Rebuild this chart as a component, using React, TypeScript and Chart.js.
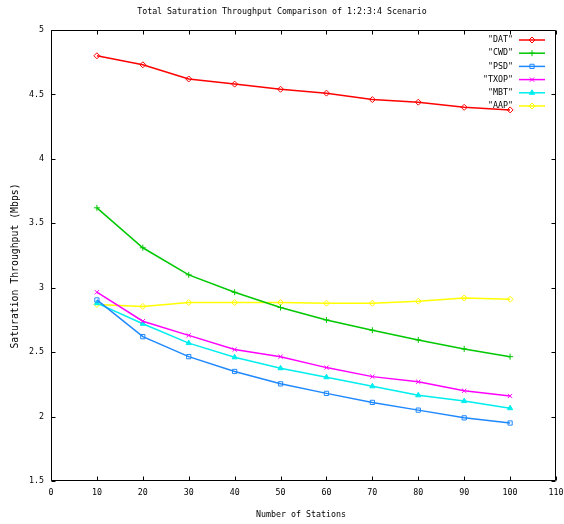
import React, { useEffect, useRef } from "react";
import { Chart, registerables } from "chart.js";
import { drawPoint } from "chart.js/helpers";
Chart.register(...registerables);

const stations = [10, 20, 30, 40, 50, 60, 70, 80, 90, 100];
const dat = [4.8, 4.73, 4.62, 4.58, 4.54, 4.51, 4.46, 4.44, 4.4, 4.38];
const cwd = [3.62, 3.31, 3.1, 2.965, 2.846, 2.75, 2.67, 2.595, 2.525, 2.465];
const psd = [2.905, 2.62, 2.465, 2.35, 2.254, 2.18, 2.11, 2.05, 1.99, 1.95];
const txop = [2.965, 2.74, 2.63, 2.52, 2.465, 2.38, 2.31, 2.27, 2.2, 2.16];
const mbt = [2.88, 2.72, 2.57, 2.46, 2.375, 2.305, 2.235, 2.165, 2.12, 2.065];
const aap = [2.87, 2.855, 2.885, 2.885, 2.885, 2.88, 2.88, 2.895, 2.92, 2.91];

const seriesNames = ['"DAT"', '"CWD"', '"PSD"', '"TXOP"', '"MBT"', '"AAP"'];
const seriesColors = ["#ff0000", "#00c800", "#1e88ff", "#ff00ff", "#00eeee", "#ffff00"];
const seriesPoints = ["rectRot", "cross", "rect", "crossRot", "triangle", "rectRot"];
const seriesValues = [dat, cwd, psd, txop, mbt, aap];

const titleText = "Total Saturation Throughput Comparison of 1:2:3:4 Scenario";
const xTitle = "Number of Stations";
const yTitle = "Saturation Throughput (Mbps)";
const FONT = "8.3px 'DejaVu Sans Mono', monospace";
const YFONT = "9.8px 'DejaVu Sans Mono', monospace";

const framePlugin = {
  id: "frame",
  afterDraw(chart: any) {
    const { ctx, chartArea: a, scales } = chart;
    ctx.save();
    ctx.strokeStyle = "#000";
    ctx.lineWidth = 1;
    const L = Math.round(a.left) + 0.5, R = Math.round(a.right) - 0.5;
    const T = Math.round(a.top) + 0.5, B = Math.round(a.bottom) - 0.5;
    ctx.beginPath();
    ctx.rect(L, T, R - L, B - T);
    ctx.stroke();
    const tl = 4;
    ctx.beginPath();
    scales.x.ticks.forEach((t: any) => {
      const px = Math.round(scales.x.getPixelForValue(t.value)) + 0.5;
      ctx.moveTo(px, B); ctx.lineTo(px, B - tl);
      ctx.moveTo(px, T); ctx.lineTo(px, T + tl);
    });
    scales.y.ticks.forEach((t: any) => {
      const py = Math.round(scales.y.getPixelForValue(t.value)) + 0.5;
      ctx.moveTo(L, py); ctx.lineTo(L + tl, py);
      ctx.moveTo(R, py); ctx.lineTo(R - tl, py);
    });
    ctx.stroke();

    // titles
    ctx.fillStyle = "#000";
    ctx.font = FONT;
    ctx.textAlign = "center";
    ctx.textBaseline = "middle";
    ctx.fillText(titleText, chart.width / 2, 12);
    ctx.fillText(xTitle, 301, 515);
    ctx.save();
    ctx.font = YFONT;
    ctx.translate(15, 266);
    ctx.rotate(-Math.PI / 2);
    ctx.fillText(yTitle, 0, 0);
    ctx.restore();

    // legend
    ctx.textAlign = "right";
    chart.data.datasets.forEach((ds: any, i: number) => {
      const y = 40 + i * 13.2;
      ctx.fillStyle = "#000";
      ctx.fillText(seriesNames[i], 513, y);
      ctx.strokeStyle = ds.borderColor;
      ctx.lineWidth = 1.5;
      ctx.beginPath();
      ctx.moveTo(519, y);
      ctx.lineTo(545, y);
      ctx.stroke();
      ctx.fillStyle = ds.pointBackgroundColor;
      ctx.lineWidth = 1;
      drawPoint(ctx, { pointStyle: ds.pointStyle, radius: ds.pointRadius, borderWidth: 1, rotation: 0 }, 532, y);
    });
    ctx.restore();
  },
};

export default function App() {
  const ref = useRef<HTMLCanvasElement>(null);
  useEffect(() => {
    document.body.style.margin = "0";
    const chart = new Chart(ref.current!, {
      type: "line",
      data: {
        labels: stations,
        datasets: seriesValues.map((vals, i) => ({
          label: seriesNames[i],
          data: stations.map((s, j) => ({ x: s, y: vals[j] })),
          borderColor: seriesColors[i],
          backgroundColor: seriesColors[i],
          pointBackgroundColor: seriesPoints[i] === "triangle" ? seriesColors[i] : "rgba(0,0,0,0)",
          pointBorderColor: seriesColors[i],
          pointStyle: seriesPoints[i] as any,
          pointRadius: 3,
          pointBorderWidth: 1,
          borderWidth: 1.5,
          tension: 0,
          fill: false,
        })),
      },
      options: {
        animation: false,
        responsive: false,
        layout: { padding: { top: 30, right: 8, left: 0, bottom: 0 } },
        plugins: { legend: { display: false }, title: { display: false }, tooltip: { enabled: false } },
        scales: {
          x: {
            type: "linear",
            min: 0,
            max: 110,
            grid: { display: false, drawTicks: false },
            border: { display: false },
            ticks: { stepSize: 10, autoSkip: false, maxRotation: 0, padding: 7, color: "#000", font: { family: "'DejaVu Sans Mono', monospace", size: 8.3 } },
            afterFit: (s: any) => { s.height = 43; s.paddingLeft = 0; s.paddingRight = 0; },
          },
          y: {
            min: 1.5,
            max: 5,
            grid: { display: false, drawTicks: false },
            border: { display: false },
            ticks: {
              stepSize: 0.5,
              padding: 7,
              color: "#000",
              font: { family: "'DejaVu Sans Mono', monospace", size: 8.3 },
              callback: (v: any) => String(Number(v)),
            },
            afterFit: (s: any) => { s.width = 51; s.paddingTop = 0; s.paddingBottom = 0; },
          },
        },
      },
      plugins: [framePlugin],
    });
    return () => chart.destroy();
  }, []);
  return (
    <div style={{ width: 564, height: 524 }}>
      <canvas ref={ref} width={564} height={524} />
    </div>
  );
}
